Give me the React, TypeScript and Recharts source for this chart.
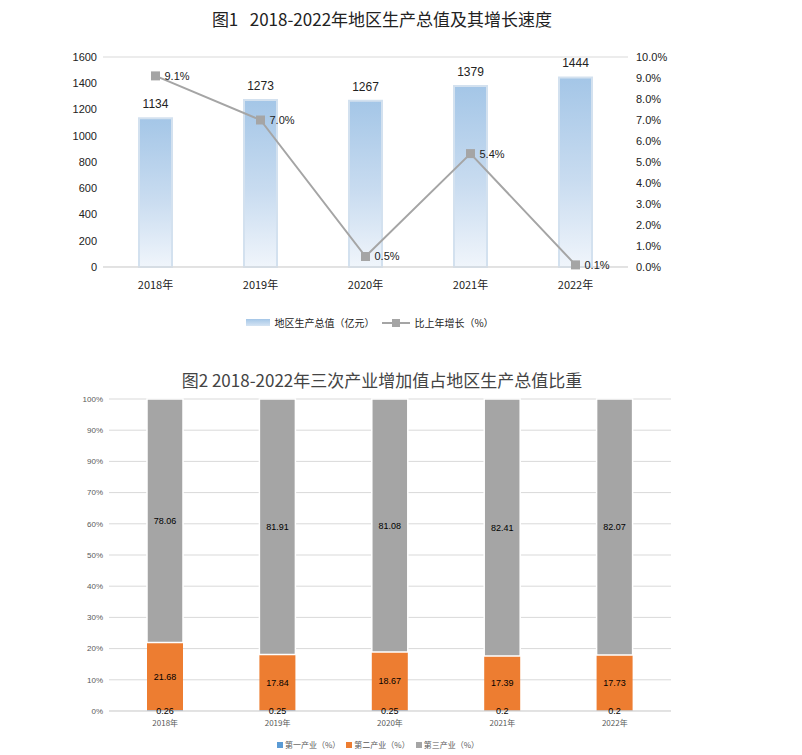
import React from 'react';
import {
  ComposedChart, BarChart, Bar, Line, XAxis, YAxis, CartesianGrid, LabelList,
} from 'recharts';

// 图1 data
const years = ['2018年', '2019年', '2020年', '2021年', '2022年'];
const gdp = [1134, 1273, 1267, 1379, 1444];
const growth = [9.1, 7.0, 0.5, 5.4, 0.1];
const gdpTicks = [0, 200, 400, 600, 800, 1000, 1200, 1400, 1600];
const growthTicks = [0, 1, 2, 3, 4, 5, 6, 7, 8, 9, 10];

// 图2 data
const primary = [0.26, 0.25, 0.25, 0.2, 0.2];
const secondary = [21.68, 17.84, 18.67, 17.39, 17.73];
const tertiary = [78.06, 81.91, 81.08, 82.41, 82.07];
const shareTicks = [0, 10, 20, 30, 40, 50, 60, 70, 80, 90, 100];
// tick labels as printed in the source (80% is printed as 90%)
const shareTickLabels = ['0%', '10%', '20%', '30%', '40%', '50%', '60%', '70%', '90%', '90%', '100%'];

const chart1Data = years.map((name, i) => ({ name, gdp: gdp[i], growth: growth[i] }));
const chart2Data = years.map((name, i) => ({
  name, p1: primary[i], p2: secondary[i], p3: tertiary[i],
}));

const FONT = "'Liberation Sans', 'Noto Sans CJK SC', sans-serif";
const CJK = "'Noto Sans CJK SC', sans-serif";

const SquareDot = (props: any) => {
  const { cx, cy, index } = props;
  if (cx == null || cy == null) return null;
  return <rect key={`d${index}`} x={cx - 4.5} y={cy - 4.5} width={9} height={9} fill="#a5a5a5" />;
};

function Chart1() {
  return (
    <div style={{ position: 'absolute', left: 0, top: 0, width: 802, height: 345 }}>
      <div style={{
        position: 'absolute', top: 6, left: 0, width: 764, textAlign: 'center',
        fontFamily: CJK, fontSize: 17, color: '#222',
      }}>
        图1&nbsp;&nbsp;&nbsp;2018-2022年地区生产总值及其增长速度
      </div>
      <ComposedChart
        width={802}
        height={345}
        data={chart1Data}
        margin={{ top: 57, right: 114, left: 0, bottom: 48 }}
        style={{ position: 'absolute', left: 0, top: 0 }}
      >
        <defs>
          <linearGradient id="gdpFill" x1="0" y1="0" x2="0" y2="1">
            <stop offset="0%" stopColor="#a4c6e7" />
            <stop offset="55%" stopColor="#c9dcf0" />
            <stop offset="100%" stopColor="#f0f5fb" />
          </linearGradient>
        </defs>
        <CartesianGrid vertical={false} stroke="#d9d9d9" />
        <XAxis
          dataKey="name"
          axisLine={{ stroke: '#d9d9d9' }}
          tickLine={false}
          height={30}
          tick={{ fill: '#222', fontSize: 11, fontFamily: CJK }}
          tickMargin={8}
        />
        <YAxis
          yAxisId="left"
          width={103}
          domain={[0, 1600]}
          ticks={gdpTicks}
          axisLine={false}
          tickLine={false}
          tickMargin={0}
          tick={{ fill: '#222', fontSize: 11, fontFamily: FONT }}
        />
        <YAxis
          yAxisId="right"
          orientation="right"
          width={60}
          domain={[0, 10]}
          ticks={growthTicks}
          axisLine={false}
          tickLine={false}
          tickFormatter={(v: number) => `${v.toFixed(1)}%`}
          tick={{ fill: '#222', fontSize: 11, fontFamily: FONT, textAnchor: 'start' }}
        />
        <Bar
          yAxisId="left"
          dataKey="gdp"
          barSize={33}
          fill="url(#gdpFill)"
          stroke="#d3e1ef"
          strokeWidth={2}
          isAnimationActive={false}
        >
          <LabelList dataKey="gdp" position="top" offset={10} fill="#222" fontSize={12} fontFamily={FONT} />
        </Bar>
        <Line
          yAxisId="right"
          dataKey="growth"
          stroke="#a5a5a5"
          strokeWidth={2}
          dot={SquareDot}
          activeDot={false}
          isAnimationActive={false}
        >
          <LabelList
            dataKey="growth"
            position="right"
            offset={9}
            fill="#222"
            fontSize={11}
            fontFamily={FONT}
            formatter={(v: any) => `${Number(v).toFixed(1)}%`}
          />
        </Line>
      </ComposedChart>
      <div style={{
        position: 'absolute', top: 315, left: 0, width: 740, display: 'flex',
        justifyContent: 'center', alignItems: 'center', fontFamily: CJK, fontSize: 10, color: '#222',
      }}>
        <span style={{
          display: 'inline-block', width: 24, height: 7, marginRight: 4,
          background: 'linear-gradient(#a4c6e7, #d5e4f3)',
        }} />
        <span>地区生产总值（亿元）</span>
        <svg width={28} height={10} style={{ marginLeft: 8, marginRight: 4 }}>
          <line x1={0} y1={5} x2={28} y2={5} stroke="#a5a5a5" strokeWidth={2} />
          <rect x={10} y={1} width={8} height={8} fill="#a5a5a5" />
        </svg>
        <span>比上年增长（%）</span>
      </div>
    </div>
  );
}

function Chart2() {
  return (
    <div style={{ position: 'absolute', left: 0, top: 0, width: 802, height: 755 }}>
      <div style={{
        position: 'absolute', top: 367, left: 0, width: 764, textAlign: 'center',
        fontFamily: CJK, fontSize: 17, color: '#444',
      }}>
        图2 2018-2022年三次产业增加值占地区生产总值比重
      </div>
      <BarChart
        width={802}
        height={755}
        data={chart2Data}
        margin={{ top: 399, right: 131, left: 0, bottom: 24 }}
        style={{ position: 'absolute', left: 0, top: 0 }}
      >
        <CartesianGrid vertical={false} stroke="#d9d9d9" />
        <XAxis
          dataKey="name"
          axisLine={{ stroke: '#d9d9d9' }}
          tickLine={false}
          height={20}
          tickMargin={3}
          tick={{ fill: '#595959', fontSize: 8, fontFamily: CJK }}
        />
        <YAxis
          width={109}
          domain={[0, 100]}
          ticks={shareTicks}
          axisLine={false}
          tickLine={false}
          tickMargin={0}
          tickFormatter={(v: number, i: number) => shareTickLabels[i]}
          tick={{ fill: '#595959', fontSize: 8, fontFamily: FONT }}
        />
        <Bar dataKey="p1" stackId="s" barSize={36} fill="#5b9bd5" isAnimationActive={false}>
          <LabelList dataKey="p1" position="center" fill="#000" fontSize={9} fontFamily={FONT} />
        </Bar>
        <Bar dataKey="p2" stackId="s" barSize={36} fill="#ed7d31" isAnimationActive={false}>
          <LabelList dataKey="p2" position="center" fill="#000" fontSize={9} fontFamily={FONT} />
        </Bar>
        <Bar dataKey="p3" stackId="s" barSize={36} fill="#a5a5a5" stroke="#ffffff" strokeWidth={1.5} isAnimationActive={false}>
          <LabelList dataKey="p3" position="center" fill="#000" fontSize={9} fontFamily={FONT} />
        </Bar>
      </BarChart>
      <div style={{
        position: 'absolute', top: 739, left: 0, width: 762, display: 'flex',
        justifyContent: 'center', alignItems: 'center', fontFamily: CJK, fontSize: 8, color: '#595959',
      }}>
        {[['#5b9bd5', '第一产业（%）'], ['#ed7d31', '第二产业（%）'], ['#a5a5a5', '第三产业（%）']].map(([c, t]) => (
          <span key={t} style={{ display: 'inline-flex', alignItems: 'center', marginRight: 6 }}>
            <span style={{ display: 'inline-block', width: 6, height: 6, background: c, marginRight: 2 }} />
            {t}
          </span>
        ))}
      </div>
    </div>
  );
}

export default function App() {
  return (
    <div style={{ position: 'absolute', left: 0, top: 0, width: 802, height: 755, background: '#fff' }}>
      <Chart1 />
      <Chart2 />
    </div>
  );
}
